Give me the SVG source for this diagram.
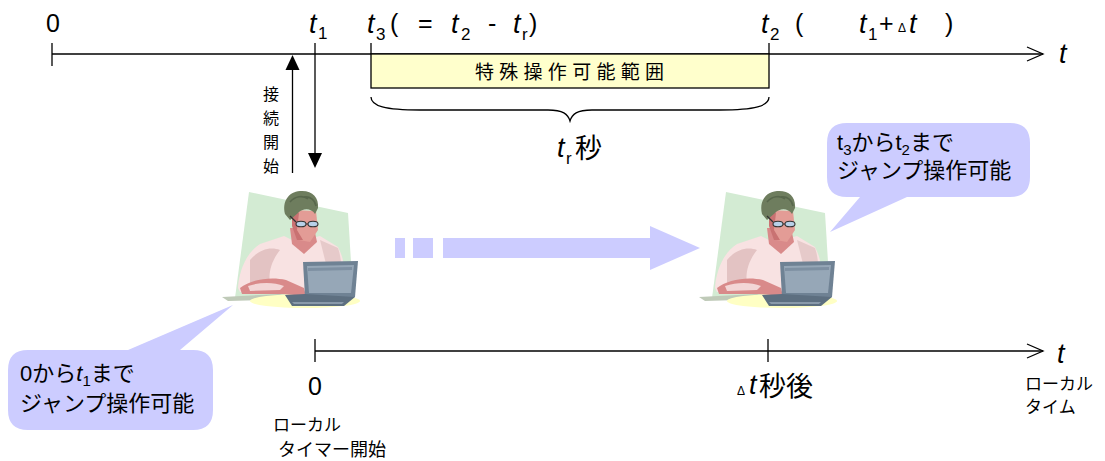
<svg xmlns="http://www.w3.org/2000/svg" xmlns:xlink="http://www.w3.org/1999/xlink" width="1105" height="461" viewBox="0 0 1105 461">
  <style>
    .ax { stroke: #000; stroke-width: 1.3; fill: none; }
    .lat { font-family: "Liberation Sans", Arial, sans-serif; fill: #000; font-size: 25px; }
    .it { font-family: "Liberation Sans", Arial, sans-serif; font-style: italic; fill: #000; font-size: 27px; }
    .sub { font-family: "Liberation Sans", Arial, sans-serif; fill: #000; font-size: 17px; }
    .dl { font-family: "Liberation Sans", Arial, sans-serif; fill: #000; font-size: 12px; }
    .jp { font-family: "Liberation Sans", "Noto Sans CJK JP", sans-serif; fill: #000; }
    .callout { fill: #CCCCFF; }
  </style>
  <defs>
    <!-- man working at a laptop -->
    <g id="person">
      <polygon points="29,12 128,33 133,114 15,118" fill="#D3EBD3"/>
      <polygon points="2,117 60,114 80,119 8,121" fill="#BFCAB8"/>
      <ellipse cx="85" cy="121" rx="55" ry="7" fill="#FFFFC4"/>
      <path d="M18,108 C19,90 27,72 40,64 L64,56 L72,60 L92,58 L100,56 L118,67 C124,78 126,92 123,104 L118,112 L20,112 Z" fill="#F8E2E2"/>
      <path d="M30,80 C38,70 50,66 60,70 C52,80 48,92 50,104 L30,108 Z" fill="#E3C3C3"/>
      <path d="M100,60 L118,68 C122,80 122,90 118,98 L106,84 Z" fill="#E6CACA"/>
      <polygon points="70,48 94,48 97,62 84,74 72,64" fill="#D98A8A"/>
      <path d="M72,30 L96,31 L98,50 L90,62 L79,60 L73,48 Z" fill="#E39C96"/>
      <path d="M72,32 L79,33 L77,50 L83,60 L77,60 L72,46 Z" fill="#C97272"/>
      <path d="M65,34 C62,22 68,12 80,11 C92,10 99,17 98,28 L95,34 C91,28 83,28 78,33 L70,40 Z" fill="#6E7D5E"/>
      <path d="M70,22 C75,16 83,15 88,19 M84,17 C90,16 95,20 96,26" stroke="#58674C" stroke-width="1.6" fill="none"/>
      <line x1="70" y1="36" x2="76" y2="42" stroke="#333" stroke-width="1.2"/>
      <ellipse cx="81" cy="44" rx="5" ry="2.8" fill="#B8D0E8" stroke="#333" stroke-width="1.1"/>
      <ellipse cx="93" cy="44" rx="5" ry="2.8" fill="#B8D0E8" stroke="#333" stroke-width="1.1"/>
      <line x1="86" y1="44" x2="88" y2="44" stroke="#333" stroke-width="1.1"/>
      <path d="M20,108 C30,100 50,96 66,100 L84,108 L86,116 L62,114 L22,114 Z" fill="#D98A8A"/>
      <path d="M28,106 C40,102 54,102 64,106 L60,110 L30,111 Z" fill="#F3D6D6"/>
      <polygon points="83,82 138,81 135,117 85,117" fill="#6F8294"/>
      <polygon points="87,86 134,85 131,113 89,113" fill="#96A7B7"/>
      <polygon points="88,88 132,87 132,90 88,91" fill="#7E90A2"/>
      <polygon points="65,115 85,114 135,117 124,126 72,126" fill="#5D6F80"/>
      <polygon points="72,122 124,122 122,124 74,124" fill="#8A9AAA"/>
    </g>
  </defs>

  <!-- global timeline -->
  <g id="top-axis">
    <line class="ax" x1="52" y1="54" x2="1043" y2="54"/>
    <polyline class="ax" points="1027,47 1043,54 1027,61"/>
    <line class="ax" x1="52" y1="43" x2="52" y2="66"/>
    <line class="ax" x1="371" y1="43" x2="371" y2="54"/>
    <line class="ax" x1="769" y1="43" x2="769" y2="54"/>
    <text class="it" x="1059" y="63">t</text>
  </g>

  <g id="top-labels">
    <text class="lat" x="53" y="32" text-anchor="middle">0</text>
    <text class="it" x="309" y="33">t</text>
    <text class="sub" x="318" y="39">1</text>
    <text class="it" x="367" y="33">t</text>
    <text class="sub" x="376" y="40">3</text>
    <text class="lat" x="390" y="32">(</text>
    <text class="lat" x="418" y="32">=</text>
    <text class="it" x="451" y="33">t</text>
    <text class="sub" x="461" y="40">2</text>
    <text class="lat" x="488" y="32">-</text>
    <text class="it" x="513" y="33">t</text>
    <text class="sub" x="522" y="40" font-size="15">r</text>
    <text class="lat" x="529" y="32">)</text>
    <text class="it" x="761" y="33">t</text>
    <text class="sub" x="770" y="40">2</text>
    <text class="lat" x="795" y="32">(</text>
    <text class="it" x="859" y="33">t</text>
    <text class="sub" x="868" y="40">1</text>
    <text class="lat" x="879" y="32">+</text>
    <text class="dl" x="898" y="32">Δ</text>
    <text class="it" x="909" y="33">t</text>
    <text class="lat" x="945" y="32">)</text>
  </g>

  <!-- special-operation range -->
  <g id="range-box">
    <rect x="371" y="54" width="398" height="34" fill="#FFFFCC" stroke="#000" stroke-width="1.3"/>
    <text class="jp" x="475" y="79" font-size="19" textLength="189" lengthAdjust="spacing">特殊操作可能範囲</text>
  </g>

  <g id="brace">
    <path class="ax" d="M371,97 C371,106 385,110 420,110 L548,110 C563,110 568,114 570,121 C572,114 577,110 592,110 L720,110 C755,110 769,106 769,97"/>
    <text class="it" x="557" y="157" font-size="28">t</text>
    <text class="sub" x="566" y="164" font-size="15">r</text>
    <text class="jp" x="575" y="158" font-size="27">秒</text>
  </g>

  <!-- connection start arrows -->
  <g id="connect">
    <line class="ax" x1="292.5" y1="69" x2="292.5" y2="173"/>
    <polygon points="292.5,55 285.5,70 299.5,70" fill="#000"/>
    <line class="ax" x1="315" y1="43" x2="315" y2="154"/>
    <polygon points="308,153 322,153 315,168" fill="#000"/>
    <text class="jp" x="271" y="100" font-size="16" text-anchor="middle">接</text>
    <text class="jp" x="271" y="124" font-size="16" text-anchor="middle">続</text>
    <text class="jp" x="271" y="148" font-size="16" text-anchor="middle">開</text>
    <text class="jp" x="271" y="172" font-size="16" text-anchor="middle">始</text>
  </g>

  <!-- users -->
  <g id="user-left">
    <use xlink:href="#person" x="220" y="180"/>
  </g>
  <g id="user-right">
    <use xlink:href="#person" x="697" y="180"/>
  </g>

  <!-- passage of time -->
  <g id="progress-arrow" fill="#CCCCFF">
    <rect x="395" y="238" width="10" height="20"/>
    <rect x="413" y="238" width="20" height="20"/>
    <rect x="443" y="238" width="208" height="20"/>
    <polygon points="650,226 700,248 650,270"/>
  </g>

  <!-- speech balloons -->
  <g id="balloon-right">
    <path class="callout" d="M847,123 L1010,123 Q1030,123 1030,143 L1030,177 Q1030,197 1010,197 L907,197 L830,232 L860,197 L847,197 Q827,197 827,177 L827,143 Q827,123 847,123 Z"/>
    <text class="jp" y="150" font-size="22"><tspan x="837">t</tspan><tspan dy="5" font-size="15">3</tspan><tspan dy="-5">から</tspan><tspan>t</tspan><tspan dy="5" font-size="15">2</tspan><tspan dy="-5">まで</tspan></text>
    <text class="jp" x="837" y="178" font-size="22">ジャンプ操作可能</text>
  </g>
  <g id="balloon-left">
    <path class="callout" d="M28,350 L128,350 L233,305 L180,350 L193,350 Q213,350 213,370 L213,410 Q213,430 193,430 L28,430 Q8,430 8,410 L8,370 Q8,350 28,350 Z"/>
    <text class="jp" y="381" font-size="22"><tspan x="20">0から</tspan><tspan font-style="italic">t</tspan><tspan dy="5" font-size="15">1</tspan><tspan dy="-5">まで</tspan></text>
    <text class="jp" x="20" y="411" font-size="22">ジャンプ操作可能</text>
  </g>

  <!-- local timeline -->
  <g id="bottom-axis">
    <line class="ax" x1="315" y1="351" x2="1043" y2="351"/>
    <polyline class="ax" points="1027,344 1043,351 1027,358"/>
    <line class="ax" x1="315" y1="339" x2="315" y2="362"/>
    <line class="ax" x1="768" y1="339" x2="768" y2="362"/>
    <text class="it" x="1057" y="363">t</text>
    <text class="jp" x="1025" y="390" font-size="17">ローカル</text>
    <text class="jp" x="1025" y="413" font-size="17">タイム</text>
  </g>

  <g id="bottom-labels">
    <text class="lat" x="315" y="395" font-size="27" text-anchor="middle">0</text>
    <text class="jp" x="273" y="431" font-size="17">ローカル</text>
    <text class="jp" x="278" y="456" font-size="18">タイマー開始</text>
    <text class="dl" x="737" y="395" font-size="13">Δ</text>
    <text class="it" x="749" y="394" font-size="28">t</text>
    <text class="jp" x="759" y="396" font-size="27">秒後</text>
  </g>
</svg>
